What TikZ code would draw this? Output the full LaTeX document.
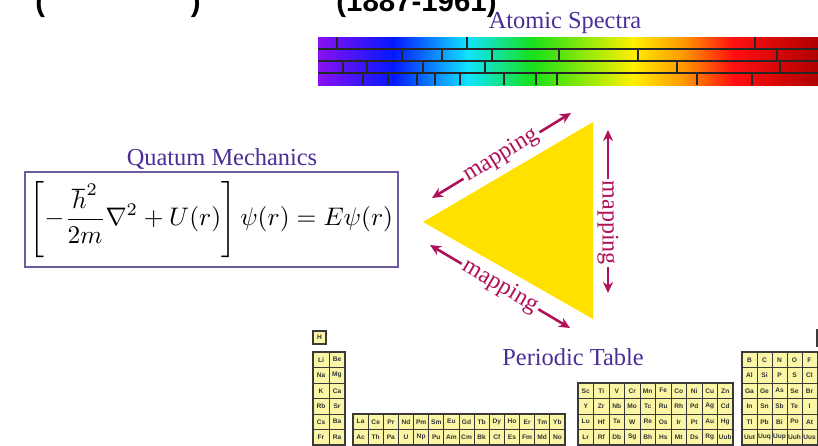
\documentclass[tikz,border=0pt]{standalone}
\usepackage{amsmath}
\usepackage{graphicx}
\usepackage{fontspec}
\setmainfont{Liberation Serif}
\setsansfont{Liberation Sans}
\usepackage{tikz}
\usetikzlibrary{arrows.meta}

\definecolor{titlecol}{HTML}{4B2D96}
\definecolor{arrowcol}{HTML}{B0105A}
\definecolor{boxcol}{HTML}{6E5A9E}
\definecolor{triyellow}{HTML}{FFE100}
\definecolor{cellfill}{HTML}{FAF6A6}
\definecolor{celldraw}{HTML}{3A3A3A}
\definecolor{specviolet}{HTML}{8A10F0}
\definecolor{specblue}{HTML}{0418FF}
\definecolor{speccyan}{HTML}{10E4FF}
\definecolor{specgreen}{HTML}{18E018}
\definecolor{specyellow}{HTML}{FFF000}
\definecolor{specorange}{HTML}{FF9800}
\definecolor{specred}{HTML}{FF1010}
\definecolor{specdark}{HTML}{B00000}

\pgfdeclarehorizontalshading{spectrum}{100bp}{color(0bp)=(specviolet); color(25bp)=(specviolet);
  color(32.5bp)=(specblue); color(40bp)=(speccyan); color(46.5bp)=(specgreen);
  color(56.5bp)=(specyellow); color(61.5bp)=(specorange); color(66.5bp)=(specred);
  color(75bp)=(specdark); color(100bp)=(specdark)}

\begin{document}
\begin{tikzpicture}[
        x=0.5pt, y=-0.5pt,
        title/.style={text=titlecol, font=\fontsize{12.2}{14}\selectfont, inner sep=0pt},
        headtext/.style={font=\sffamily\bfseries\fontsize{14.7}{17}\selectfont, inner sep=0pt},
        eqbox/.style={draw=boxcol, line width=0.6pt, minimum width=186.5pt, minimum height=47.5pt, inner sep=0pt},
        maparrow/.style={draw=arrowcol, line width=1.3pt, {Stealth[length=5.5pt,width=5pt]}-{Stealth[length=5.5pt,width=5pt]}},
        maplabel/.style={text=arrowcol, font=\fontsize{12}{14}\selectfont, fill=white, inner sep=1.2pt},
        barline/.style={draw=black!85, line width=0.7pt},
        cell/.style={draw=celldraw, line width=0.35pt, fill=cellfill, minimum width=7.75pt, minimum height=7.75pt,
            inner sep=0pt, text=black!80, font=\sffamily\bfseries\fontsize{3.3}{4}\selectfont},
        block/.style={draw=celldraw, line width=0.8pt},
    ]
        \useasboundingbox (0,0) rectangle (818,445);
        \clip (0,0) rectangle (818,445);

        % Heading (cut off at the top)
        \node[headtext, anchor=base west] (lpar) at (35,11) {(};
        \node[headtext, anchor=base east] (rpar) at (201,11) {)};
        \node[headtext, anchor=base west] (years) at (336,11) {(1887-1961)};

        % Atomic spectra
        \node[title, anchor=base] (spectitle) at (565,28) {Atomic Spectra};
        \shade[shading=spectrum] (318,37) rectangle (818,85);
        \draw[barline, line width=0.9pt] (318,49) -- (818,49);
        \draw[barline, line width=0.9pt] (318,61) -- (818,61);
        \draw[barline, line width=0.9pt] (318,73) -- (818,73);
        \foreach \x in {337,467,755} \draw[barline] (\x,37) -- (\x,49);
        \foreach \x in {402,442,492,559,638,777} \draw[barline] (\x,49) -- (\x,61);
        \foreach \x in {343,367,423,485,677,780} \draw[barline] (\x,61) -- (\x,73);
        \foreach \x in {363,388,417,435,460,504,536,557,697,752} \draw[barline] (\x,73) -- (\x,85);

        % Quantum mechanics
        \node[title, anchor=base] (qmtitle) at (222,165) {Quatum Mechanics};
        \node[eqbox] (eq) at (211.5,219.5)
            {\scalebox{1.27}{$\displaystyle \left[-\frac{\hbar^2}{2m}\nabla^2+U(r)\right]\psi(r)=E\psi(r)$}};

        % Triangle
        \coordinate (tri-l) at (423,222);
        \coordinate (tri-t) at (593,122);
        \coordinate (tri-b) at (593,319);
        \fill[triyellow] (tri-l) -- (tri-t) -- (tri-b) -- cycle;

        % Mappings
        \coordinate (up-a) at (432,198);
        \coordinate (up-b) at (571,113);
        \coordinate (lo-a) at (430,245);
        \coordinate (lo-b) at (570,328);
        \coordinate (ri-a) at (608,130);
        \coordinate (ri-b) at (608,293);
        \draw[maparrow] (up-a) -- node[maplabel, sloped] {mapping} (up-b);
        \draw[maparrow] (lo-a) -- node[maplabel, sloped] {mapping} (lo-b);
        \draw[maparrow] (ri-a) -- node[maplabel, rotate=-90, pos=0.57] {mapping} (ri-b);

        % Periodic table
        \node[title, anchor=base] (pttitle) at (573,365) {Periodic Table};
        \node[cell, minimum width=6.75pt, minimum height=6.75pt, line width=0.8pt] (H) at (319.5,337.5) {H};
        \node[cell, line width=0.8pt] (He) at (824.5,338) {He};
        \foreach \row [count=\r from 0] in {{Li,Be},{Na,Mg},{K,Ca},{Rb,Sr},{Cs,Ba},{Fr,Ra}}
            \foreach \el [count=\c from 0] in \row
                \node[cell, minimum width=8pt] (s-\r-\c) at (321+16*\c,359.75+15.5*\r) {\el};
        \foreach \row [count=\r from 0] in {{La,Ce,Pr,Nd,Pm,Sm,Eu,Gd,Tb,Dy,Ho,Er,Tm,Yb},{Ac,Th,Pa,U,Np,Pu,Am,Cm,Bk,Cf,Es,Fm,Md,No}}
            \foreach \el [count=\c from 0] in \row
                \node[cell, minimum width=7.57pt] (f-\r-\c) at (360.57+15.14*\c,421.75+15.5*\r) {\el};
        \foreach \row [count=\r from 0] in {{Sc,Ti,V,Cr,Mn,Fe,Co,Ni,Cu,Zn},{Y,Zr,Nb,Mo,Tc,Ru,Rh,Pd,Ag,Cd},{Lu,Hf,Ta,W,Re,Os,Ir,Pt,Au,Hg},{Lr,Rf,Db,Sg,Bh,Hs,Mt,Ds,Rg,Uub}}
            \foreach \el [count=\c from 0] in \row
                \node[cell] (d-\r-\c) at (585.75+15.5*\c,390.75+15.5*\r) {\el};
        \foreach \row [count=\r from 0] in {{B,C,N,O,F,Ne},{Al,Si,P,S,Cl,Ar},{Ga,Ge,As,Se,Br,Kr},{In,Sn,Sb,Te,I,Xe},{Tl,Pb,Bi,Po,At,Rn},{Uut,Uuq,Uup,Uuh,Uus,Uuo}}
            \foreach \el [count=\c from 0] in \row
                \node[cell, minimum width=7.5pt] (p-\r-\c) at (749.5+15*\c,359.75+15.5*\r) {\el};
        \draw[block] (313,352) rectangle (345,445);
        \draw[block] (353,414) rectangle (565,445);
        \draw[block] (578,383) rectangle (733,445);
        \draw[block] (742,352) rectangle (832,445);

    \end{tikzpicture}
\end{document}
